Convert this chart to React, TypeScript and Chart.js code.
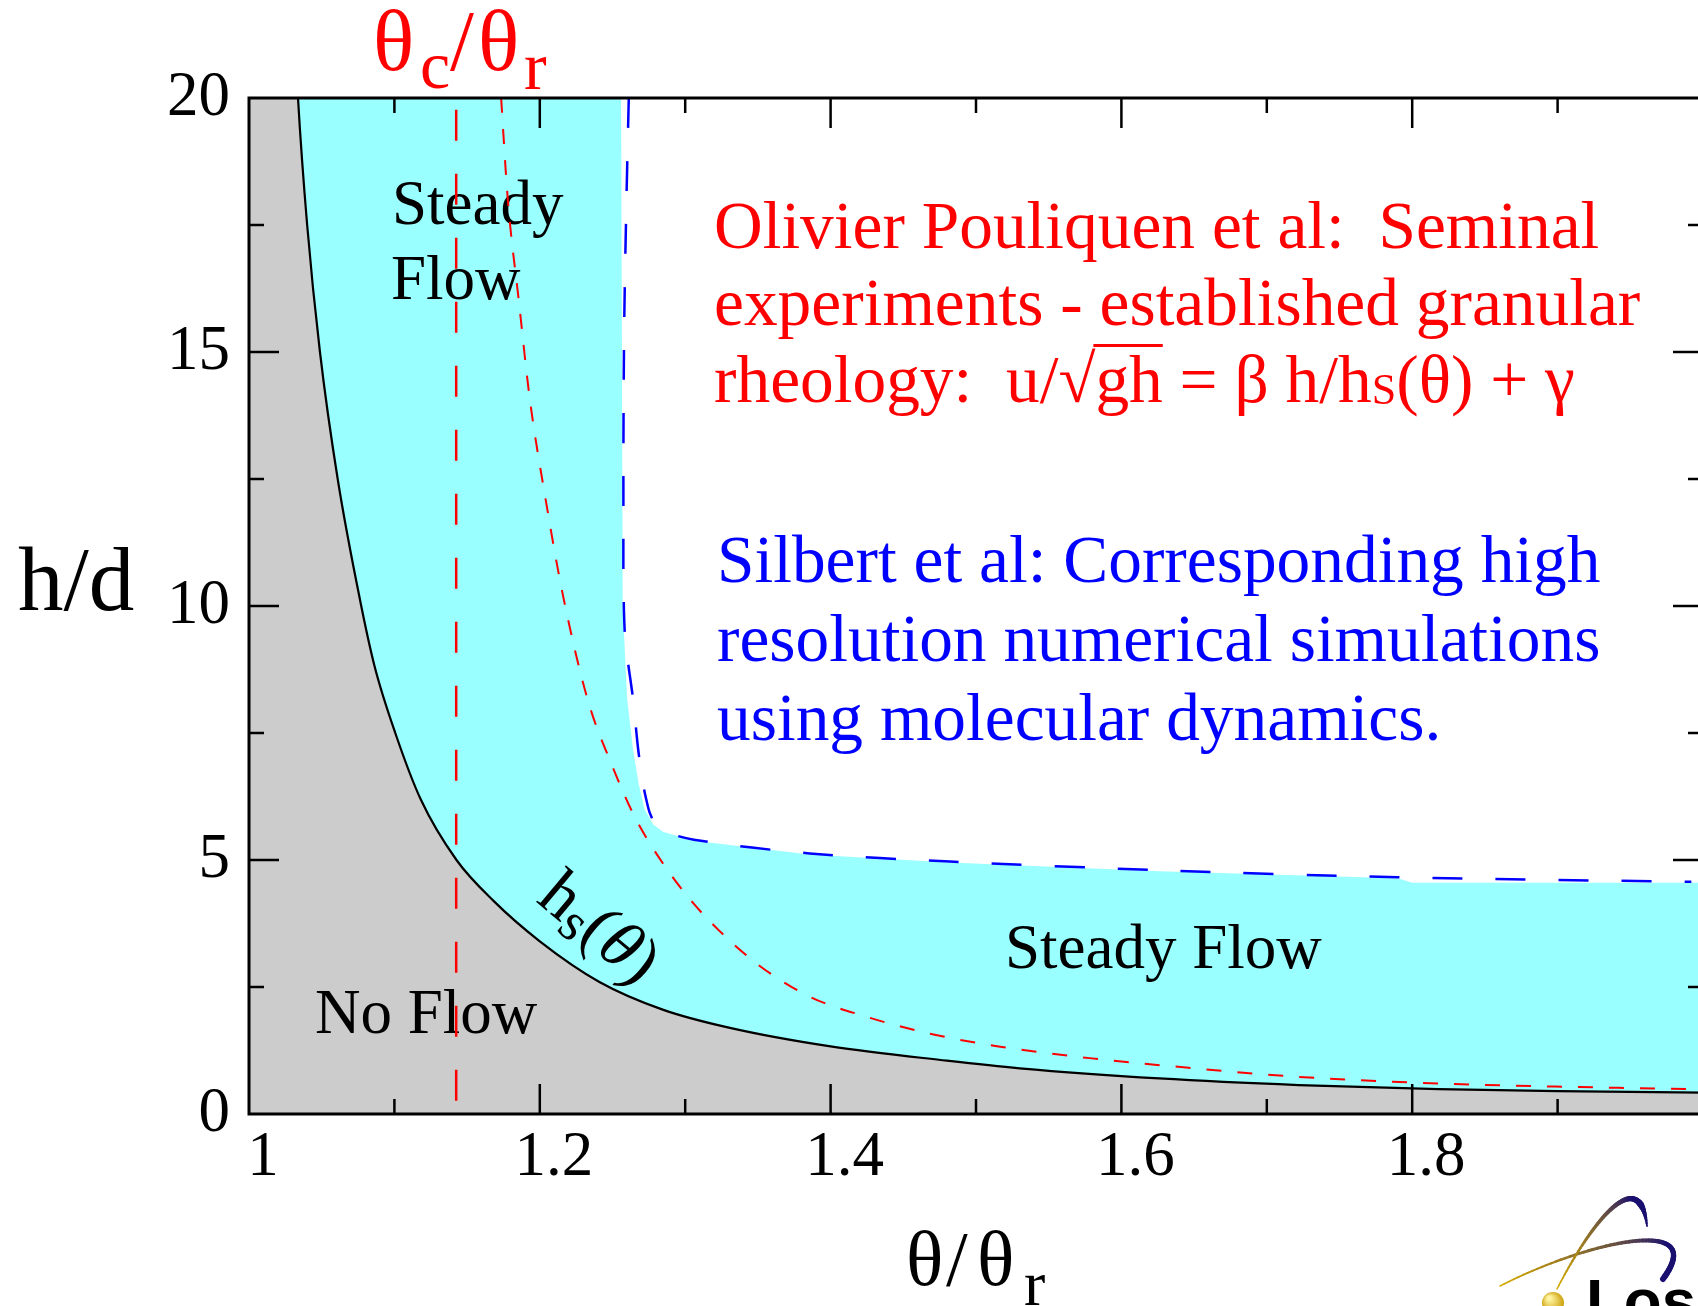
import React, { useEffect, useRef } from 'react';
import { Chart, registerables } from 'chart.js';
Chart.register(...registerables);

// ---- data ----
// h_s(theta): black solid curve (stop height)
const hsTheta = [1.0, 1.0337, 1.040, 1.0488, 1.061, 1.0765, 1.0865, 1.1006, 1.118, 1.1427, 1.168, 1.200, 1.241, 1.285, 1.33, 1.40, 1.48, 1.53, 1.626, 1.722, 1.818, 1.90, 2.0];
const hsH = [40, 20, 17.5, 15.0, 12.5, 10.1, 8.8, 7.5, 6.2, 5.0, 4.2, 3.4, 2.6, 2.05, 1.7, 1.33, 1.05, 0.9, 0.7, 0.57, 0.49, 0.45, 0.42];

// red short-dashed curve
const redTheta = [1.1734, 1.178, 1.1856, 1.193, 1.204, 1.216, 1.233, 1.250, 1.2653, 1.2845, 1.3038, 1.323, 1.352, 1.3856, 1.424, 1.467, 1.5155, 1.578, 1.650, 1.722, 1.8186, 1.915, 1.992];
const redH = [20, 18.0, 16.0, 14.1, 12.1, 10.2, 8.15, 6.84, 5.85, 4.94, 4.21, 3.62, 2.90, 2.31, 1.92, 1.59, 1.33, 1.10, 0.90, 0.73, 0.60, 0.53, 0.49];

// blue long-dashed boundary (Silbert et al. simulations)
const blueTheta = [1.2612, 1.2596, 1.258, 1.2575, 1.2584, 1.2642, 1.2677, 1.271, 1.2733, 1.276, 1.282, 1.306, 1.3856, 1.482, 1.626, 1.79, 1.992];
const blueH = [20, 18.0, 15.4, 12.0, 9.5, 8.15, 7.17, 6.5, 6.18, 5.9, 5.62, 5.40, 5.13, 4.97, 4.80, 4.66, 4.57];

// cyan "steady flow" region upper boundary
const cyanTheta = [1.0, 1.2559, 1.2565, 1.257, 1.260, 1.264, 1.268, 1.272, 1.278, 1.285, 1.306, 1.3856, 1.482, 1.626, 1.79, 1.80, 2.0];
const cyanH = [20, 20, 15, 10, 8.2, 7.2, 6.5, 6.0, 5.7, 5.55, 5.38, 5.11, 4.95, 4.78, 4.64, 4.55, 4.55];

// theta_c / theta_r vertical line
const thetaCTheta = [1.1425, 1.1425];
const thetaCH = [19.77, 0.25];

// axes
const xTickValues = [1, 1.2, 1.4, 1.6, 1.8];
const xTickLabels = ['1', '1.2', '1.4', '1.6', '1.8'];
const xMajorMarks = [1.2, 1.4, 1.6, 1.8];
const xMinorMarks = [1.1, 1.3, 1.5, 1.7, 1.9];
const yTickValues = [0, 5, 10, 15, 20];
const yTickLabels = ['0', '5', '10', '15', '20'];
const yMajorMarks = [5, 10, 15];
const yMinorMarks = [2.5, 7.5, 12.5, 17.5];

const redLines = ['Olivier Pouliquen et al:  Seminal', 'experiments - established granular'];
const blueLines = ['Silbert et al: Corresponding high', 'resolution numerical simulations', 'using molecular dynamics.'];

const SERIF = '"Liberation Serif", "DejaVu Serif", serif';

const pts = (xs: number[], ys: number[]) => xs.map((x, i) => ({ x, y: ys[i] }));

type Part = { t: string; size: number; dy?: number; italic?: boolean; over?: boolean; at?: number };

function drawParts(ctx: CanvasRenderingContext2D, x: number, y: number, parts: Part[], color: string) {
  let cx = x;
  ctx.fillStyle = color;
  ctx.textBaseline = 'alphabetic';
  ctx.textAlign = 'left';
  for (const p of parts) {
    if (p.at !== undefined) cx = x + p.at;
    ctx.font = `${p.italic ? 'italic ' : ''}${p.size}px ${SERIF}`;
    ctx.fillText(p.t, cx, y + (p.dy || 0));
    const w = ctx.measureText(p.t).width;
    if (p.over) {
      ctx.strokeStyle = color;
      ctx.lineWidth = 3;
      ctx.beginPath();
      ctx.moveTo(cx - 2, y - p.size * 0.84);
      ctx.lineTo(cx + w, y - p.size * 0.84);
      ctx.stroke();
    }
    cx += w;
  }
}

function drawArc(ctx: CanvasRenderingContext2D, p: number[][], w0: number, w1: number, taper: boolean) {
  const c0 = [212, 170, 0];
  const c1 = [26, 16, 112];
  const N = 60;
  const bez = (t: number) => {
    const a = (1 - t) ** 3, b = 3 * (1 - t) ** 2 * t, c = 3 * (1 - t) * t * t, d = t ** 3;
    return [a * p[0][0] + b * p[1][0] + c * p[2][0] + d * p[3][0], a * p[0][1] + b * p[1][1] + c * p[2][1] + d * p[3][1]];
  };
  ctx.lineCap = 'round';
  for (let i = 0; i < N; i++) {
    const t0 = i / N, t1 = (i + 1) / N;
    const a = bez(t0), b = bez(t1);
    const k = Math.min(1, t0 * 1.4);
    const col = c0.map((v, j) => Math.round(v + (c1[j] - v) * k));
    let w = w0 + (w1 - w0) * t0;
    if (taper && t0 > 0.8) w = w1 * (1 - (t0 - 0.8) / 0.25);
    ctx.strokeStyle = `rgb(${col[0]},${col[1]},${col[2]})`;
    ctx.lineWidth = Math.max(1, w);
    ctx.beginPath();
    ctx.moveTo(a[0], a[1]);
    ctx.lineTo(b[0], b[1]);
    ctx.stroke();
  }
}

const overlayPlugin = {
  id: 'overlay',
  beforeDatasetsDraw(chart: any) {
    const ctx: CanvasRenderingContext2D = chart.ctx;
    const a = chart.chartArea;
    ctx.save();
    ctx.beginPath();
    ctx.rect(a.left, a.top, a.right - a.left, a.bottom - a.top);
    ctx.clip();
    drawParts(ctx, 392, 224, [{ t: 'Steady', size: 63 }], '#000');
    drawParts(ctx, 391, 299, [{ t: 'Flow', size: 63 }], '#000');
    drawParts(ctx, 315, 1033, [{ t: 'No Flow', size: 63 }], '#000');
    drawParts(ctx, 1005, 968, [{ t: 'Steady Flow', size: 63 }], '#000');
    ctx.save();
    ctx.translate(535, 901);
    ctx.rotate((40 * Math.PI) / 180);
    drawParts(ctx, 0, 0, [
      { t: 'h', size: 68 },
      { t: 's', size: 54, dy: 9 },
      { t: '(', size: 68 },
      { t: 'θ', size: 68, italic: true },
      { t: ')', size: 68 },
    ], '#000');
    ctx.restore();
    ctx.restore();
  },
  afterDatasetsDraw(chart: any) {
    const ctx: CanvasRenderingContext2D = chart.ctx;
    const a = chart.chartArea;
    const xs = chart.scales.x, ys = chart.scales.y;
    ctx.save();
    ctx.strokeStyle = '#000';
    ctx.lineWidth = 3;
    ctx.strokeRect(a.left, a.top, a.right - a.left, a.bottom - a.top);
    ctx.lineWidth = 2.5;
    const tick = (x1: number, y1: number, x2: number, y2: number) => {
      ctx.beginPath();
      ctx.moveTo(x1, y1);
      ctx.lineTo(x2, y2);
      ctx.stroke();
    };
    const xm = (vals: number[], len: number) => vals.forEach(v => {
      const px = xs.getPixelForValue(v);
      tick(px, a.bottom, px, a.bottom - len);
      tick(px, a.top, px, a.top + len);
    });
    const ym = (vals: number[], len: number) => vals.forEach(v => {
      const py = ys.getPixelForValue(v);
      tick(a.left, py, a.left + len, py);
      tick(a.right, py, a.right - len, py);
    });
    xm(xMajorMarks, 30);
    xm(xMinorMarks, 15);
    ym(yMajorMarks, 30);
    ym(yMinorMarks, 15);
    ctx.restore();
  },
  afterDraw(chart: any) {
    const ctx: CanvasRenderingContext2D = chart.ctx;
    ctx.save();
    // axis titles
    drawParts(ctx, 18, 610, [{ t: 'h/d', size: 91 }], '#000');
    drawParts(ctx, 906, 1285, [
      { t: 'θ', size: 78 },
      { t: '/', size: 78, at: 40 },
      { t: 'θ', size: 78, at: 71 },
      { t: 'r', size: 64, dy: 20, at: 118 },
    ], '#000');
    // theta_c / theta_r marker label
    drawParts(ctx, 373, 70, [
      { t: 'θ', size: 86 },
      { t: 'c', size: 68, dy: 18, at: 47 },
      { t: '/', size: 86, at: 77 },
      { t: 'θ', size: 86, at: 105 },
      { t: 'r', size: 68, dy: 19, at: 151 },
    ], '#ff0000');
    // red block
    const FS = 67.4;
    drawParts(ctx, 714, 248, [{ t: redLines[0], size: FS }], '#ff0000');
    drawParts(ctx, 714, 325, [{ t: redLines[1], size: FS }], '#ff0000');
    drawParts(ctx, 714, 402, [
      { t: 'rheology:  u/', size: FS },
      { t: '√', size: FS },
      { t: 'gh', size: FS, over: true },
      { t: ' = β h/h', size: FS },
      { t: 'S', size: 44, dy: 2 },
      { t: '(θ) + γ', size: FS },
    ], '#ff0000');
    // blue block
    drawParts(ctx, 717, 582, [{ t: blueLines[0], size: FS }], '#0000ff');
    drawParts(ctx, 717, 661, [{ t: blueLines[1], size: FS }], '#0000ff');
    drawParts(ctx, 717, 740, [{ t: blueLines[2], size: FS }], '#0000ff');
    // logo (decorative, partially cut off)
    drawArc(ctx, [[1500, 1286], [1590, 1240], [1710, 1215], [1663, 1279]], 1.5, 6, false);
    drawArc(ctx, [[1557, 1289], [1595, 1215], [1640, 1165], [1647, 1226]], 1.5, 7, true);
    const g = ctx.createRadialGradient(1549, 1298, 2, 1553, 1303, 12);
    g.addColorStop(0, '#fff3a0');
    g.addColorStop(1, '#c89a00');
    ctx.fillStyle = g;
    ctx.beginPath();
    ctx.arc(1553, 1303, 11, 0, Math.PI * 2);
    ctx.fill();
    ctx.fillStyle = '#000';
    ctx.font = 'bold 62px "Liberation Sans", Arial, sans-serif';
    ctx.textBaseline = 'alphabetic';
    ctx.fillText('Los Alamos', 1586, 1322);
    ctx.restore();
  },
};

export default function App() {
  const ref = useRef<HTMLCanvasElement | null>(null);
  useEffect(() => {
    if (!ref.current) return;
    const chart = new Chart(ref.current, {
      type: 'line',
      data: {
        datasets: [
          {
            data: pts(thetaCTheta, thetaCH),
            borderColor: '#ff0000',
            borderWidth: 2.5,
            borderDash: [31, 33],
            pointRadius: 0,
            fill: false,
            order: 1,
          },
          {
            data: pts(redTheta, redH),
            borderColor: '#ff0000',
            borderWidth: 2,
            borderDash: [15, 16],
            pointRadius: 0,
            cubicInterpolationMode: 'monotone',
            fill: false,
            order: 2,
          },
          {
            data: pts(blueTheta, blueH),
            borderColor: '#0000ff',
            borderWidth: 2.5,
            borderDash: [30, 33],
            pointRadius: 0,
            tension: 0.3,
            fill: false,
            order: 3,
          },
          {
            data: pts(hsTheta, hsH),
            borderColor: '#000000',
            borderWidth: 2.2,
            pointRadius: 0,
            cubicInterpolationMode: 'monotone',
            fill: 'origin',
            backgroundColor: '#cccccc',
            order: 4,
          },
          {
            data: pts(cyanTheta, cyanH),
            borderColor: 'rgba(0,0,0,0)',
            borderWidth: 0,
            pointRadius: 0,
            tension: 0,
            fill: 'origin',
            backgroundColor: '#99ffff',
            order: 5,
          },
        ],
      } as any,
      options: {
        animation: false,
        responsive: true,
        maintainAspectRatio: false,
        devicePixelRatio: 1,
        events: [],
        layout: { padding: { top: 98, right: 9, bottom: 0, left: 0 } },
        plugins: {
          legend: { display: false },
          tooltip: { enabled: false },
          filler: { drawTime: 'beforeDatasetsDraw' },
        },
        scales: {
          x: {
            type: 'linear',
            position: 'bottom',
            min: 1,
            max: 2,
            grid: { display: false, drawTicks: false, tickLength: 0 },
            border: { display: false },
            ticks: {
              font: { family: 'Liberation Serif', size: 63 },
              color: '#000',
              padding: 7,
              labelOffset: 14,
              autoSkip: false,
              maxRotation: 0,
              minRotation: 0,
              callback: (_v: any, i: number) => xTickLabels[i],
            },
            afterBuildTicks: (s: any) => {
              s.ticks = xTickValues.map(v => ({ value: v }));
            },
            afterFit: (s: any) => {
              s.height = 192;
            },
          },
          y: {
            type: 'linear',
            position: 'left',
            min: 0,
            max: 20,
            grid: { display: false, drawTicks: false, tickLength: 0 },
            border: { display: false },
            ticks: {
              font: { family: 'Liberation Serif', size: 63 },
              color: '#000',
              padding: 19,
              labelOffset: 0,
              autoSkip: false,
              callback: (_v: any, i: number) => yTickLabels[i],
            },
            afterBuildTicks: (s: any) => {
              s.ticks = yTickValues.map(v => ({ value: v }));
            },
            afterFit: (s: any) => {
              s.width = 249;
            },
          },
        },
      } as any,
      plugins: [overlayPlugin],
    });
    return () => chart.destroy();
  }, []);
  return (
    <div style={{ position: 'fixed', left: 0, top: 0, width: 1698, height: 1306, overflow: 'hidden', background: '#fff' }}>
      <div style={{ position: 'relative', width: 1712, height: 1306 }}>
        <canvas ref={ref} />
      </div>
    </div>
  );
}
